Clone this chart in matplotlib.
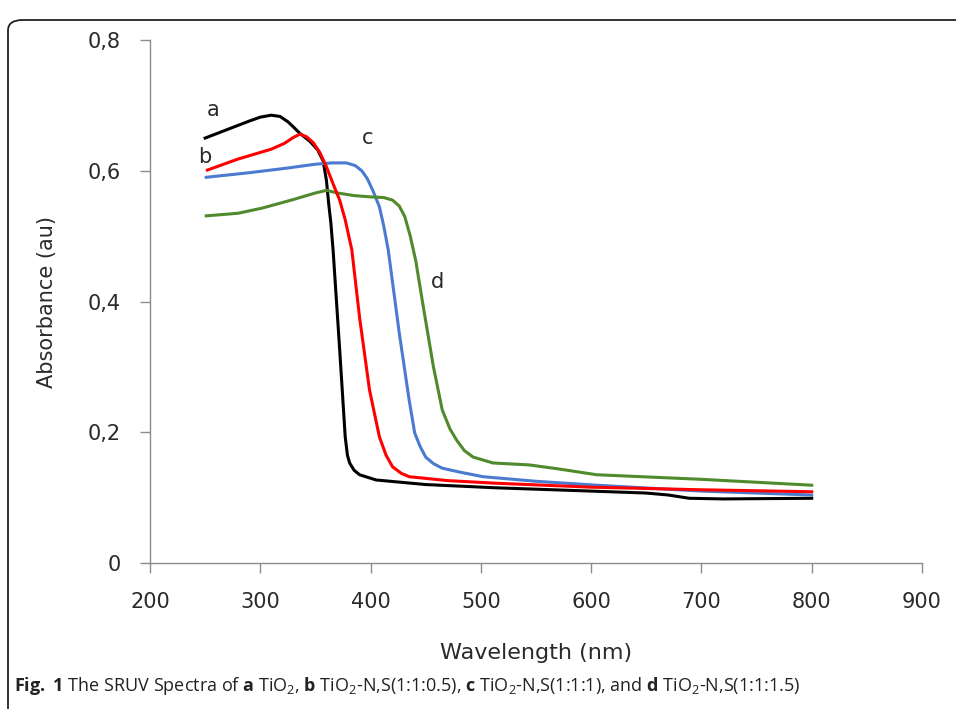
import matplotlib
matplotlib.use('Agg')
import matplotlib.pyplot as plt
from matplotlib.patches import FancyBboxPatch
from matplotlib.ticker import FixedLocator, FuncFormatter

plt.rcParams['font.family'] = ['DejaVu Sans']
plt.rcParams['mathtext.fontset'] = 'custom'
plt.rcParams['mathtext.rm'] = 'Open Sans'
plt.rcParams['mathtext.bf'] = 'Open Sans:bold'

# ── data ──
wl_a = [250, 270, 290, 300, 310, 318, 325, 330, 336, 345, 352, 357, 360, 362,
        364, 366, 372, 377, 379, 381, 385, 390, 405, 450, 514, 600, 650, 670,
        689, 720, 800]
abs_a = [0.650, 0.663, 0.676, 0.682, 0.685, 0.683, 0.675, 0.667, 0.657, 0.645,
         0.632, 0.615, 0.585, 0.550, 0.520, 0.479, 0.326, 0.193, 0.165, 0.153,
         0.142, 0.135, 0.127, 0.120, 0.115, 0.110, 0.107, 0.104, 0.099, 0.098,
         0.099]

wl_b = [252, 280, 310, 322, 330, 336, 342, 348, 354, 360, 366, 372, 377, 383,
        390, 399, 408, 414, 420, 428, 435, 470, 514, 600, 700, 800]
abs_b = [0.601, 0.618, 0.633, 0.642, 0.651, 0.656, 0.652, 0.643, 0.628, 0.606,
         0.580, 0.555, 0.525, 0.479, 0.376, 0.265, 0.193, 0.165, 0.147, 0.137,
         0.132, 0.126, 0.122, 0.116, 0.112, 0.109]

wl_c = [251, 290, 324, 350, 365, 378, 386, 392, 397, 402, 408, 412, 416, 426,
        435, 440, 445, 450, 457, 465, 481, 502, 550, 605, 700, 800]
abs_c = [0.590, 0.597, 0.604, 0.610, 0.612, 0.612, 0.608, 0.600, 0.588, 0.570,
         0.545, 0.515, 0.479, 0.352, 0.249, 0.199, 0.178, 0.162, 0.152, 0.145,
         0.139, 0.132, 0.125, 0.119, 0.110, 0.104]

wl_d = [251, 280, 302, 330, 350, 360, 370, 385, 400, 412, 420, 426, 431, 436,
        441, 448, 457, 465, 472, 478, 485, 493, 511, 544, 570, 605, 700, 800]
abs_d = [0.531, 0.535, 0.543, 0.556, 0.566, 0.570, 0.566, 0.562, 0.560, 0.559,
         0.555, 0.546, 0.530, 0.500, 0.462, 0.390, 0.300, 0.234, 0.205, 0.188,
         0.172, 0.162, 0.153, 0.150, 0.144, 0.135, 0.128, 0.119]

curve_labels = ['a', 'b', 'c', 'd']
label_x = [257, 250, 397, 461]
label_y = [0.693, 0.621, 0.650, 0.430]

x_ticks = [200, 300, 400, 500, 600, 700, 800, 900]
y_ticks = [0, 0.2, 0.4, 0.6, 0.8]

caption = (r"$\bf{Fig.}$ $\bf{1}$ The SRUV Spectra of $\bf{a}$ TiO$_2$, "
           r"$\bf{b}$ TiO$_2$-N,S(1:1:0.5), $\bf{c}$ TiO$_2$-N,S(1:1:1), "
           r"and $\bf{d}$ TiO$_2$-N,S(1:1:1.5)")

# ── figure ──
fig = plt.figure(figsize=(9.56, 7.09), dpi=100)
ax = fig.add_axes([150 / 956, 1 - 563 / 709, 772 / 956, 523 / 709])

ax.plot(wl_a, abs_a, color='black', lw=2.2, zorder=3, solid_joinstyle='round')
ax.plot(wl_c, abs_c, color='#4a7bd0', lw=2.2, zorder=3, solid_joinstyle='round')
ax.plot(wl_d, abs_d, color='#4f8a2c', lw=2.2, zorder=3, solid_joinstyle='round')
ax.plot(wl_b, abs_b, color='#ff0000', lw=2.2, zorder=4, solid_joinstyle='round')

for lab, lx, ly in zip(curve_labels, label_x, label_y):
    ax.text(lx, ly, lab, fontsize=15, color='#2a2a2a', ha='center', va='center')

ax.set_xlim(200, 900)
ax.set_ylim(0, 0.8)
ax.xaxis.set_major_locator(FixedLocator(x_ticks))
ax.yaxis.set_major_locator(FixedLocator(y_ticks))
ax.yaxis.set_major_formatter(FuncFormatter(
    lambda v, p: '0' if v == 0 else f'{v:.1f}'.replace('.', ',')))

for s in ['top', 'right']:
    ax.spines[s].set_visible(False)
for s in ['left', 'bottom']:
    ax.spines[s].set_color('#8c8c8c')
    ax.spines[s].set_linewidth(1.0)
ax.tick_params(axis='both', colors='#8c8c8c', length=7, width=1.0,
               labelsize=15, labelcolor='#2a2a2a', direction='out')
ax.tick_params(axis='x', pad=14)
ax.tick_params(axis='y', pad=14)

ax.set_xlabel('Wavelength (nm)', fontsize=16, color='#2a2a2a', labelpad=22)
ax.set_ylabel('Absorbance (au)', fontsize=15, color='#2a2a2a', labelpad=22)

# rounded frame around the figure panel
frame = FancyBboxPatch((8 / 956, -0.05), 1.2, 1 - 20 / 709 + 0.05,
                       boxstyle='round,pad=0,rounding_size=0.015',
                       transform=fig.transFigure, fill=False,
                       edgecolor='#222222', lw=1.3, clip_on=False)
fig.patches.append(frame)

fig.text(14 / 956, 1 - 686 / 709, caption, fontsize=13, color='#222222',
         family='Open Sans', ha='left', va='center')

plt.savefig('out.png', dpi=100)
plt.close()
